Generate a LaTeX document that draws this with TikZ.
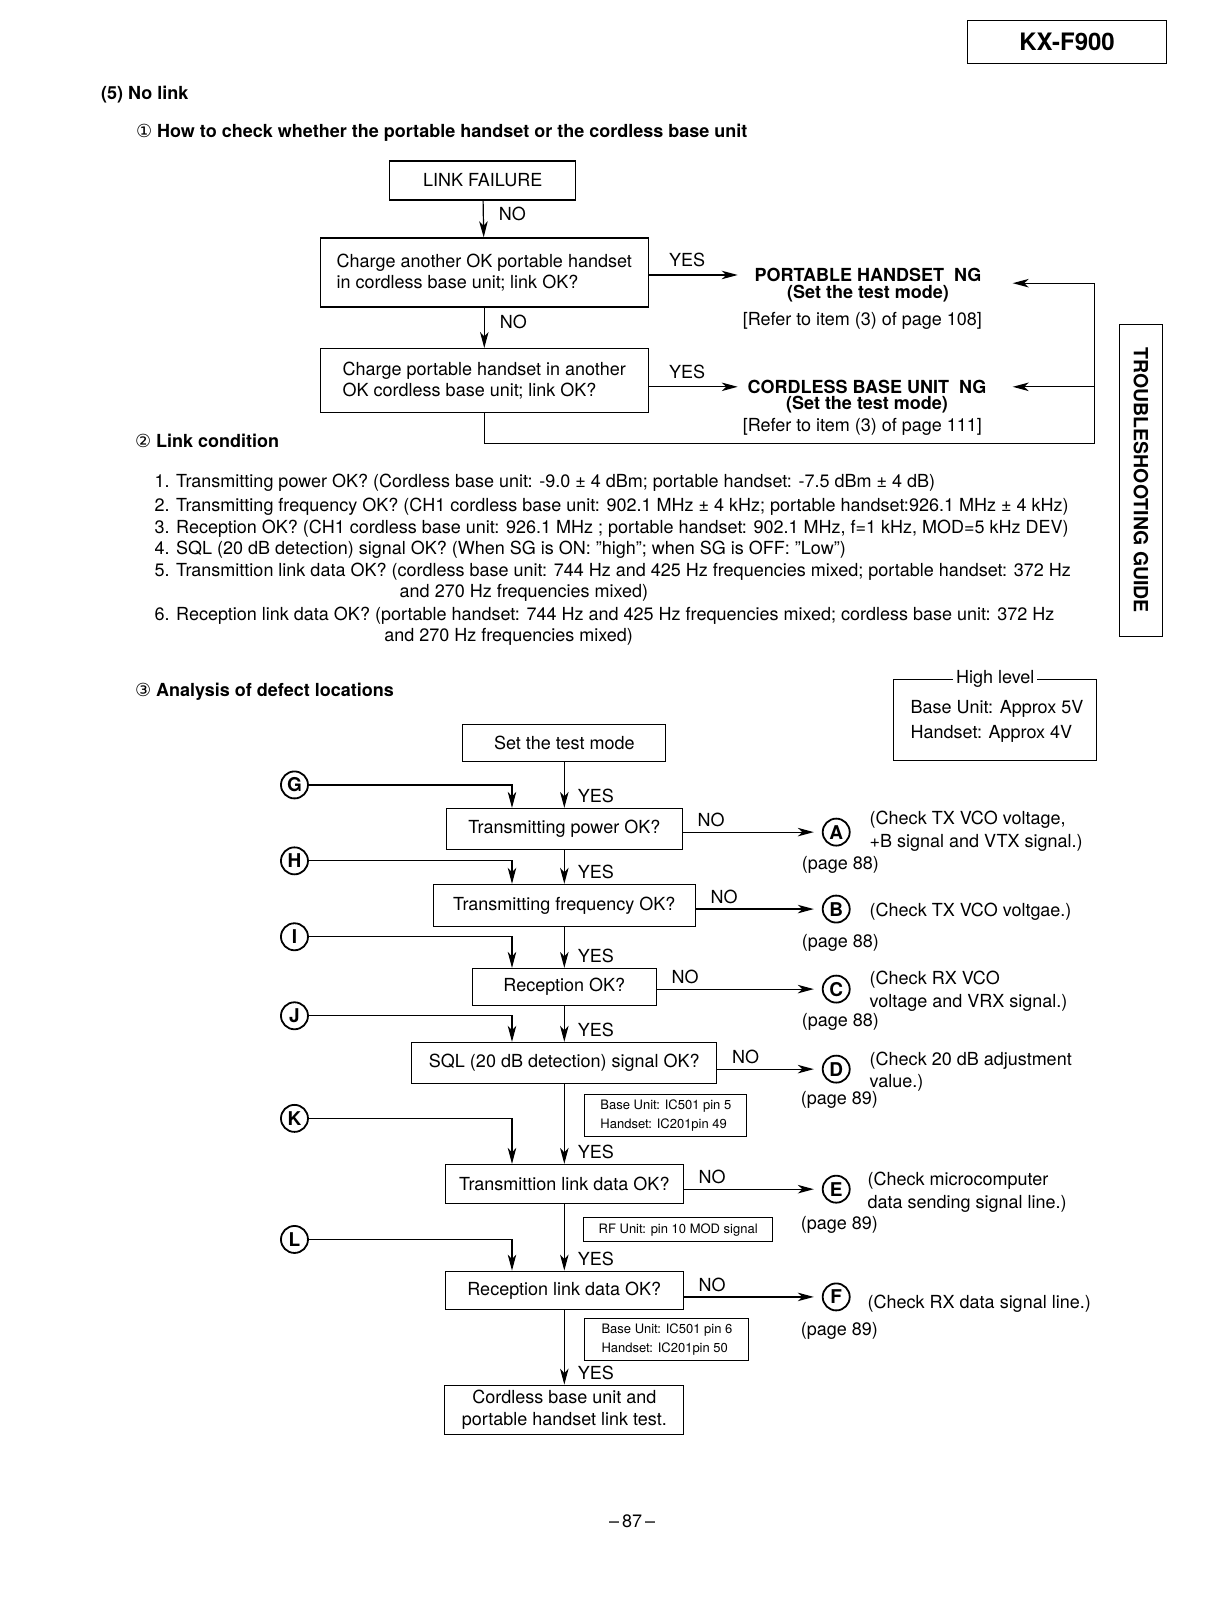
\documentclass[tikz,border=0pt]{standalone}
\usepackage{fontspec}
\setmainfont{TeX Gyre Heros}
\newfontfamily\symfont{DejaVu Sans}
\usetikzlibrary{positioning,arrows.meta,calc}
\newcommand{\fsz}[2]{\fontsize{#1pt}{#2pt}\selectfont}

\begin{document}
\begin{tikzpicture}[x=1.026pt, y=-1.026pt, line width=1.2pt, >={Stealth[length=16pt, width=8.5pt, inset=4.5pt]}]
% Definition of blocks:
\tikzset{%
  box/.style   = {draw, line width=1.3pt, rectangle, inner sep=0pt, align=center, font=\fsz{18}{21.5}},
  hint/.style  = {draw, line width=1.1pt, rectangle, inner sep=0pt, align=left, font=\fsz{13}{19}},
  tag/.style   = {draw, circle, line width=1.8pt, minimum size=27pt, inner sep=0pt, font=\bfseries\fsz{19}{19}},
  txt/.style   = {inner sep=0pt, align=left, font=\fsz{18}{22.6}},
  note/.style  = {txt, anchor=west}, % Side notes
  head/.style  = {inner sep=0pt, anchor=west, font=\bfseries\fsz{18}{20}},
  ng/.style    = {inner sep=0pt, font=\bfseries\fsz{18}{20}},
  yes/.style   = {at end, anchor=west, inner sep=0pt, xshift=13pt, yshift=12pt, font=\fsz{18}{18}},
  no/.style    = {at start, anchor=west, inner sep=0pt, xshift=14pt, yshift=12pt, font=\fsz{18}{18}},
  nod/.style   = {right, pos=0.35, inner sep=0pt, xshift=15pt, font=\fsz{18}{18}},
  yesr/.style  = {at start, anchor=west, inner sep=0pt, xshift=19.5pt, yshift=15pt, font=\fsz{18}{18}}
}
\useasboundingbox (0,0) rectangle (1185.2,1571.1);

% Header
\draw
	node [draw, line width=1.3pt, minimum width=199pt, minimum height=43pt, font=\bfseries\fsz{24}{24}] (kx) at (1040,41) {KX-F900}
	node [draw, line width=1.3pt, rotate=-90, minimum width=312pt, minimum height=43pt, font=\bfseries\fsz{19.5}{20}] (ts) at (1112,468) {TROUBLESHOOTING GUIDE}
	node [head] (h5) at (98,92) {(5) No link}
	node [head] (h1) at (132,129) {{\symfont\mdseries ①} How to check whether the portable handset or the cordless base unit}
	node [head] (h2) at (131,430) {{\symfont\mdseries ②} Link condition}
	node [head] (h3) at (131,674) {{\symfont\mdseries ③} Analysis of defect locations};

% Portable handset or base unit
\draw
	node [box, minimum width=186pt, minimum height=39pt] (lf) at (470.5,176) {LINK FAILURE}
	node [box, align=left, minimum width=328pt, minimum height=69pt] (ch1) at (472,265.5) {Charge another OK portable handset\\in cordless base unit; link OK?}
	node [box, align=left, minimum width=328pt, minimum height=64pt] (ch2) at (472,371) {Charge portable handset in another\\OK cordless base unit; link OK?}
	node [ng] (phng) at (846,268) {PORTABLE HANDSET\ \ NG}
	node [ng] (phset) at (846,286) {(Set the test mode)}
	node [txt] (phref) at (840.5,313) {[Refer to item (3) of page 108]}
	node [ng] (cbng) at (845,377) {CORDLESS BASE UNIT\ \ NG}
	node [ng] (cbset) at (845,394) {(Set the test mode)}
	node [txt] (cbref) at (840.5,416) {[Refer to item (3) of page 111]};
\coordinate (phl) at (719,268);
\coordinate (cbl) at (719,377);
\coordinate (phr) at (987,276);
\coordinate (cbr) at (987,377);
\coordinate (ret) at (1067,432);

	\draw[->](lf) -- node[nod] {NO} (ch1);
	\draw[->](ch1) -- node[nod] {NO} (ch2);
	\draw[->](ch1.east |- phl) -- node[yesr] {YES} (phl);
	\draw[->](ch2.east |- cbl) -- node[yesr] {YES} (cbl);
	\draw(ch2.south) |- (ret);
	\draw[->](ret) |- (phr);
	\draw[->](ret |- cbr) -- (cbr);

% Link condition
\draw
	node [note] (c1) at (150,470) {1. Transmitting power OK? (Cordless base unit: -9.0 ± 4 dBm; portable handset: -7.5 dBm ± 4 dB)}
	node [note] (c2) at (150,494) {2. Transmitting frequency OK? (CH1 cordless base unit: 902.1 MHz ± 4 kHz; portable handset:926.1 MHz ± 4 kHz)}
	node [note] (c3) at (150,515) {3. Reception OK? (CH1 cordless base unit: 926.1 MHz ; portable handset: 902.1 MHz, f=1 kHz, MOD=5 kHz DEV)}
	node [note] (c4) at (150,536) {4. SQL (20 dB detection) signal OK? (When SG is ON: "high"; when SG is OFF: "Low")}
	node [note] (c5) at (150,557) {5. Transmittion link data OK? (cordless base unit: 744 Hz and 425 Hz frequencies mixed; portable handset: 372 Hz}
	node [note] (c5b) at (389,578) {and 270 Hz frequencies mixed)}
	node [note] (c6) at (150,600) {6. Reception link data OK? (portable handset: 744 Hz and 425 Hz frequencies mixed; cordless base unit: 372 Hz}
	node [note] (c6b) at (374,621) {and 270 Hz frequencies mixed)};

% Analysis of defect locations
\draw
	node [draw, line width=1.2pt, minimum width=203pt, minimum height=81pt] (hl) at (970,701.5) {}
	node [fill=white, inner sep=3pt, font=\fsz{18}{18}] (hlt) at (970,662) {High level}
	node [note, font=\fsz{18}{24.6}] (hlv) at (887,703) {Base Unit: Approx 5V\\Handset: Approx 4V}
	node [box, minimum width=203pt, minimum height=37pt] (stm) at (550,724) {Set the test mode}
	node [box, minimum width=236pt, minimum height=41pt] (tp) at (550,808) {Transmitting power OK?}
	node [box, minimum width=262pt, minimum height=42pt] (tf) at (550,882.5) {Transmitting frequency OK?}
	node [box, minimum width=184pt, minimum height=37pt] (rc) at (550,962) {Reception OK?}
	node [box, minimum width=305pt, minimum height=41pt] (sql) at (550,1036) {SQL (20 dB detection) signal OK?}
	node [box, minimum width=238pt, minimum height=39pt] (tl) at (550,1154) {Transmittion link data OK?}
	node [box, minimum width=238pt, minimum height=38pt] (rl) at (550,1257.5) {Reception link data OK?}
	node [box, minimum width=239pt, minimum height=49pt] (fin) at (550,1374) {Cordless base unit and\\portable handset link test.}
	node [hint, minimum width=162pt, minimum height=42pt] (sb1) at (649,1087.5) {Base Unit: IC501 pin 5\\Handset: IC201pin 49}
	node [hint, minimum width=189pt, minimum height=24pt] (rfb) at (661,1198.5) {RF Unit: pin 10 MOD signal}
	node [hint, minimum width=164pt, minimum height=42pt] (sb3) at (650,1305.5) {Base Unit: IC501 pin 6\\Handset: IC201pin 50}
	node [tag] (A) at (815,811) {A}
	node [tag] (B) at (815,886) {B}
	node [tag] (C) at (815,964) {C}
	node [tag] (D) at (815,1042) {D}
	node [tag] (E) at (815,1159) {E}
	node [tag] (F) at (815,1264) {F}
	node [tag] (G) at (287,765) {G}
	node [tag] (H) at (287,839) {H}
	node [tag] (I) at (287,913) {I}
	node [tag] (J) at (287,990) {J}
	node [tag] (K) at (287,1090) {K}
	node [tag] (L) at (287,1208) {L}
	node [note] (chkA) at (847,810) {(Check TX VCO voltage,\\+B signal and VTX signal.)}
	node [note] (chkB) at (847,889) {(Check TX VCO voltgae.)}
	node [note] (chkC) at (847,966) {(Check RX VCO\\voltage and VRX signal.)}
	node [note] (chkD) at (847,1044.5) {(Check 20 dB adjustment\\value.)}
	node [note] (chkE) at (845,1162) {(Check microcomputer\\data sending signal line.)}
	node [note] (chkF) at (845,1271) {(Check RX data signal line.)}
	node [note] (pgA) at (781,843) {(page 88)}
	node [note] (pgB) at (781,919) {(page 88)}
	node [note] (pgC) at (781,996) {(page 88)}
	node [note] (pgD) at (780,1072) {(page 89)}
	node [note] (pgE) at (780,1194) {(page 89)}
	node [note] (pgF) at (780,1297) {(page 89)}
	node [txt] (pnum) at (616,1483) {\textendash\,87\,\textendash};
\coordinate (jn) at (499,0);

	\draw[->](stm) -- node[yes] {YES} (tp);
	\draw[->](tp) -- node[yes] {YES} (tf);
	\draw[->](tf) -- node[yes] {YES} (rc);
	\draw[->](rc) -- node[yes] {YES} (sql);
	\draw[->](sql) -- node[yes] {YES} (tl);
	\draw[->](tl) -- node[yes] {YES} (rl);
	\draw[->](rl) -- node[yes] {YES} (fin);
	\draw[->, shorten >=8pt](tp.east |- A) -- node[no] {NO} (A);
	\draw[->, shorten >=8pt](tf.east |- B) -- node[no] {NO} (B);
	\draw[->, shorten >=8pt](rc.east |- C) -- node[no] {NO} (C);
	\draw[->, shorten >=8pt](sql.east |- D) -- node[no] {NO} (D);
	\draw[->, shorten >=8pt](tl.east |- E) -- node[no] {NO} (E);
	\draw[->, shorten >=8pt](rl.east |- F) -- node[no] {NO} (F);
	\draw[->](G) -| (tp.north -| jn);
	\draw[->](H) -| (tf.north -| jn);
	\draw[->](I) -| (rc.north -| jn);
	\draw[->](J) -| (sql.north -| jn);
	\draw[->](K) -| (tl.north -| jn);
	\draw[->](L) -| (rl.north -| jn);
	%
\end{tikzpicture}
\end{document}
